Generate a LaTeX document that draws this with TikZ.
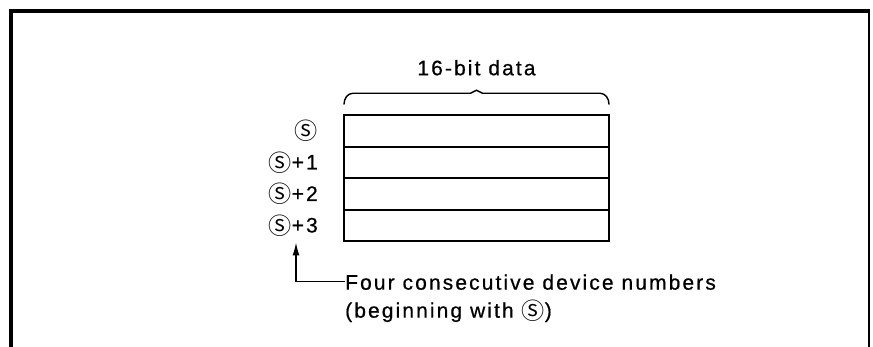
\documentclass[tikz,border=0pt]{standalone}
\usepackage{fontspec}
\setmainfont{Liberation Sans}[LetterSpace=10.0, FakeBold=0.6]
\newfontfamily\circfont{Noto Sans CJK JP}[Scale=1.1]
\usetikzlibrary{arrows.meta, positioning, calc}
\newcommand{\sdev}{\raisebox{-1.8pt}{\circfont Ⓢ}}

\begin{document}
\begin{tikzpicture}[x=1pt, y=1pt,
    every node/.style={font=\fontsize{21}{28}\selectfont, inner sep=0pt},
    frameline/.style={line width=4pt},
    cell/.style={rectangle, draw, line width=1.6pt, outer sep=0pt,
                 minimum width=265pt, minimum height=31.5pt},
    lbl/.style={anchor=east},
    bracket/.style={line width=1.4pt, line cap=round},
    pointer/.style={-{Latex[length=13pt, width=7pt]}, line width=1.4pt}
]
    \useasboundingbox (0,0) rectangle (873,347);
    % frame, open at the bottom
    \draw[frameline] (10.5,0) -- (10.5,336) -- (870,336);
    \draw[line width=2pt] (868.5,336) -- (868.5,0);

    % the four words
    \node[cell] (row0) at (476.5,216) {};
    \foreach \i [count=\j from 0] in {1,2,3}
        \node[cell, below=0pt of row\j] (row\i) {};

    \node[lbl, left=26pt of row0] (lab0) {\sdev};
    \foreach \i in {1,2,3}
        \node[lbl, left=26pt of row\i] (lab\i) {\sdev+\i};

    % brace and heading
    \node[anchor=base] (hdr) at ($(row0.north)+(0,40)$) {16-bit data};
    \coordinate (bl) at ($(row0.north west)+(0,11)$);
    \coordinate (br) at ($(row0.north east)+(0,11)$);
    \draw[bracket] (bl) to[out=90,in=180] ++(9,11)
        -- ($(row0.north)+(-6,22)$) -- ++(6,3) -- ++(6,-3)
        -- ($(br)+(-9,11)$) to[out=0,in=90] (br);

    % note
    \node[anchor=north west, align=left] (note) at ($(row3.south west)+(1,-33)$)
        {Four consecutive device numbers\\(beginning with \sdev)};
    \coordinate (elbow) at ($(note.north west)+(0,-7.5)$);
    \draw[pointer] (elbow) -| ($(lab3.south east)+(-22,-6)$);
\end{tikzpicture}
\end{document}
